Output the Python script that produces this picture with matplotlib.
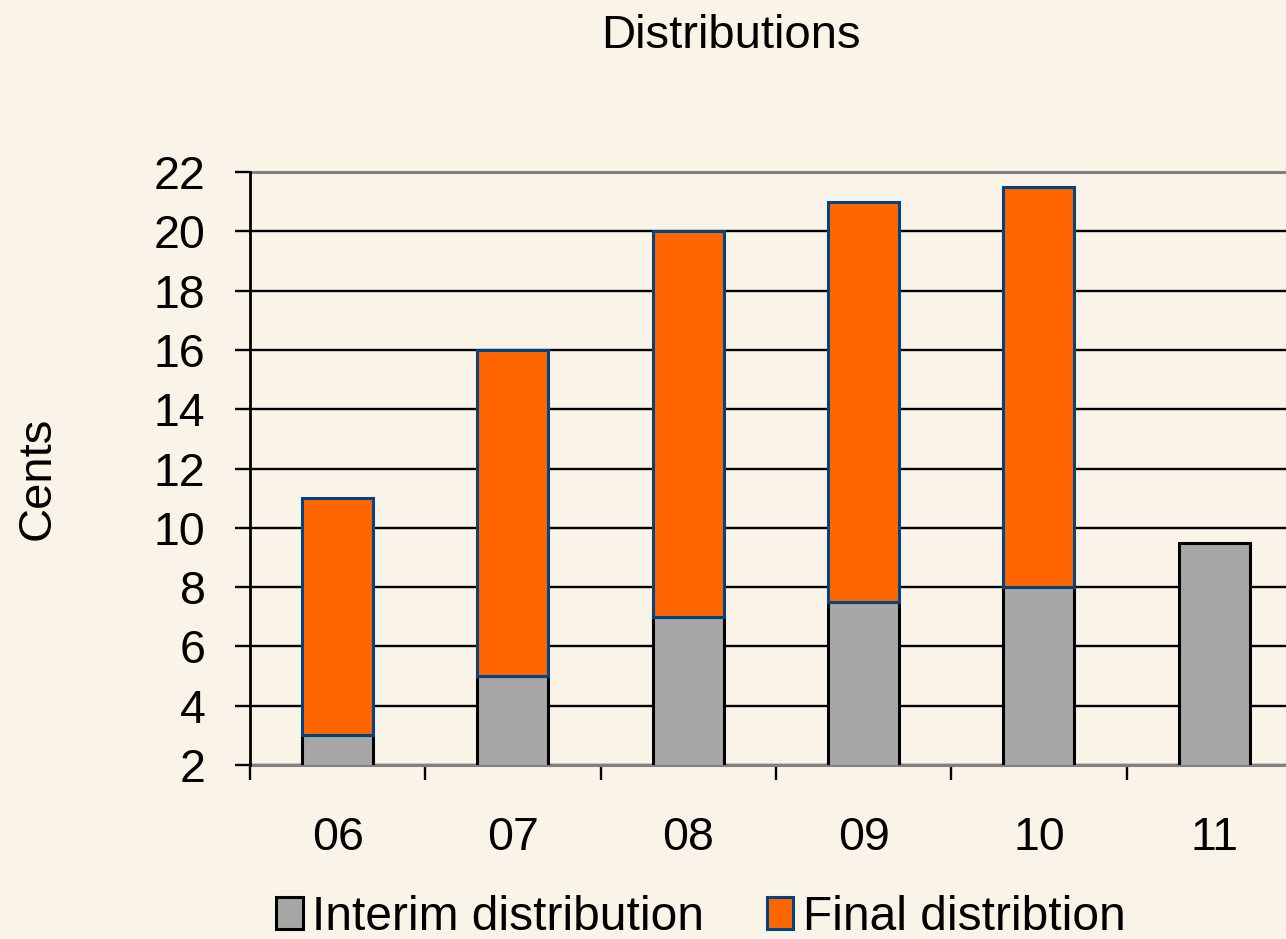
import numpy as np
import matplotlib
matplotlib.use('Agg')
import matplotlib.pyplot as plt
from matplotlib.patches import Patch

years = ['06', '07', '08', '09', '10', '11']
interim = [3, 5, 7, 7.5, 8, 9.5]
final = [8, 11, 13, 13.5, 13.5, None]   # 11 has no final distribution yet

bg = '#FAF3E8'
orange = '#FF6600'
grey = '#A6A6A6'
blue_edge = '#00437F'

plt.rcParams['font.family'] = ['Liberation Sans', 'DejaVu Sans']

fig = plt.figure(figsize=(12.86, 9.39), dpi=100, facecolor=bg)
ax = fig.add_axes([0.1944, 0.1853, 0.818, 0.6315], facecolor=bg)

x = np.arange(len(years))
w = 0.405

# gridlines behind bars
ax.set_ylim(2, 22)
ax.set_yticks(np.arange(2, 23, 2))
ax.yaxis.grid(True, color='black', linewidth=1.7, zorder=0)
ax.set_axisbelow(True)

ax.bar(x, interim, w, color=grey, edgecolor='black', linewidth=2.2, zorder=2)
fx = [i for i, v in enumerate(final) if v is not None]
fv = [final[i] for i in fx]
fb = [interim[i] for i in fx]
ax.bar(fx, fv, w, bottom=fb, color=orange, edgecolor=blue_edge, linewidth=2.2, zorder=3)

ax.set_xlim(-0.5, len(years) - 0.5)
ax.set_xticks(x)
ax.set_xticklabels(years)
ax.set_xticks(np.arange(-0.5, len(years), 1), minor=True)
ax.tick_params(axis='x', which='major', length=0, pad=37, labelsize=33.5)
ax.tick_params(axis='x', which='minor', length=11, width=1.7, color='black')
ax.tick_params(axis='y', length=11, width=1.7, pad=21, labelsize=33.5, color='black')

for s in ['top', 'bottom']:
    ax.spines[s].set_color('#808080')
    ax.spines[s].set_linewidth(2.2)
    ax.spines[s].set_zorder(1)
ax.spines['left'].set_color('black')
ax.spines['left'].set_linewidth(2)
ax.spines['right'].set_visible(False)

fig.text(0.568, 0.962, 'Distributions', ha='center', va='center', fontsize=34)
fig.text(0.0295, 0.491, 'Cents', ha='center', va='center', rotation=90, fontsize=34)

handles = [Patch(facecolor=grey, edgecolor='black', linewidth=2.2),
           Patch(facecolor=orange, edgecolor=blue_edge, linewidth=2.2)]
fig.legend(handles, ['Interim distribution', 'Final distribtion'],
           loc='center', bbox_to_anchor=(0.545, 0.023), ncol=2, frameon=False,
           fontsize=34.5, handlelength=0.55, handleheight=0.66,
           handletextpad=0.2, columnspacing=1.3, borderpad=0, borderaxespad=0)

fig.savefig('out.png', dpi=100, facecolor=bg)
